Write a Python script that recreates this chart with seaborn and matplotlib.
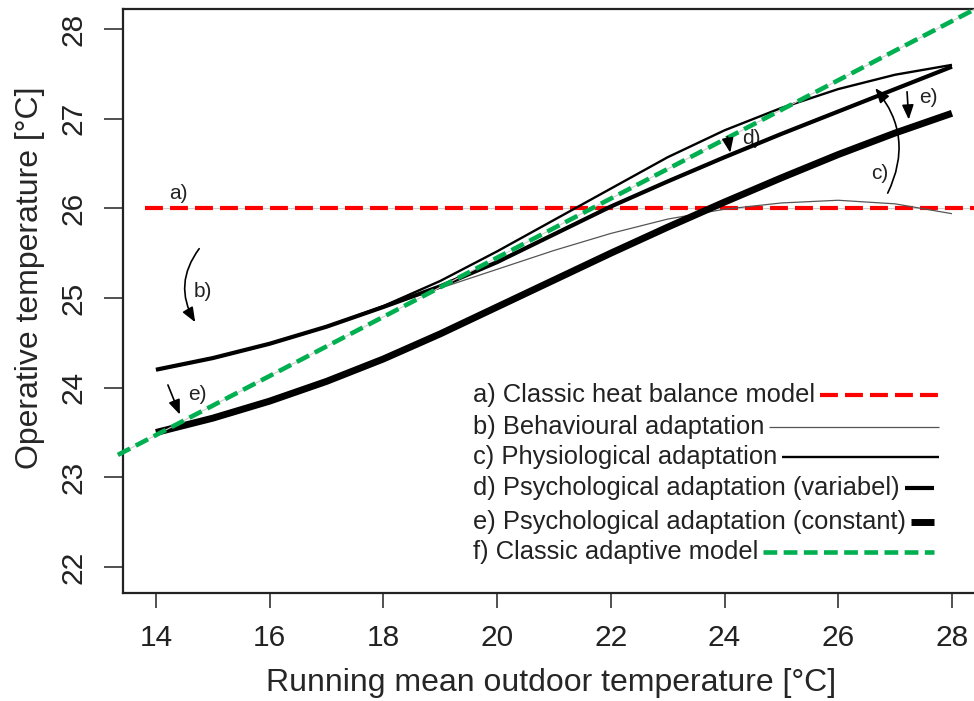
import matplotlib
matplotlib.use("Agg")
import matplotlib.pyplot as plt
import seaborn as sns
import pandas as pd
from matplotlib.patches import FancyArrowPatch

# ---------------- data ----------------
x_vals = [14, 15, 16, 17, 18, 19, 20, 21, 22, 23, 24, 25, 26, 27, 28]
psych_constant = [23.50, 23.66, 23.85, 24.07, 24.32, 24.60, 24.90, 25.20, 25.50, 25.79, 26.07, 26.34, 26.60, 26.84, 27.06]
psych_variable = [24.20, 24.33, 24.49, 24.68, 24.90, 25.13, 25.40, 25.71, 26.02, 26.30, 26.57, 26.83, 27.08, 27.33, 27.58]
physiological = [24.20, 24.33, 24.49, 24.68, 24.91, 25.19, 25.52, 25.87, 26.22, 26.57, 26.87, 27.12, 27.33, 27.49, 27.60]
behavioural = [24.20, 24.33, 24.49, 24.68, 24.90, 25.11, 25.32, 25.53, 25.72, 25.88, 25.99, 26.06, 26.09, 26.05, 25.94]
heat_balance_x = [13.81, 28.74]
heat_balance_y = [26.0, 26.0]
adaptive_x = [13.33, 28.40]
adaptive_y = [23.25, 28.22]

x_ticks = [14, 16, 18, 20, 22, 24, 26, 28]
y_ticks = [22, 23, 24, 25, 26, 27, 28]
legend_labels = ["a) Classic heat balance model",
                 "b) Behavioural adaptation",
                 "c) Physiological adaptation",
                 "d) Psychological adaptation (variabel)",
                 "e) Psychological adaptation (constant)",
                 "f) Classic adaptive model"]

# ---------------- style ----------------
sns.set_theme(style="white")
plt.rcParams["font.family"] = ["Liberation Sans", "DejaVu Sans"]
plt.rcParams["text.color"] = "#222222"

fig = plt.figure(figsize=(9.74, 7.01), dpi=100)
ax = fig.add_axes([0.12628, 0.15407, 0.8943, 0.83309])
ax.set_xlim(13.42, 28.74)
ax.set_ylim(21.71, 28.223)

RED = "#ff0000"
GREEN = "#00b050"

df = pd.DataFrame({"x": x_vals, "e": psych_constant, "d": psych_variable,
                   "c": physiological, "b": behavioural})

# a) heat balance (red dashed)
ax.plot(heat_balance_x, heat_balance_y, color="#cccccc", lw=0.8, zorder=1)
sns.lineplot(x=heat_balance_x, y=heat_balance_y, ax=ax, color=RED, lw=3.0, zorder=2)
ax.lines[-1].set_dashes([4.3, 1.7])

sns.lineplot(data=df, x="x", y="b", ax=ax, color="#555555", lw=0.9, zorder=3)
sns.lineplot(data=df, x="x", y="c", ax=ax, color="black", lw=1.7, zorder=4)
sns.lineplot(data=df, x="x", y="d", ax=ax, color="black", lw=3.0, zorder=5)
sns.lineplot(data=df, x="x", y="e", ax=ax, color="black", lw=5.0, zorder=6)

# f) adaptive (green dashed)
ax.plot(adaptive_x, adaptive_y, color="#cccccc", lw=0.8, zorder=7, clip_on=False)
sns.lineplot(x=adaptive_x, y=adaptive_y, ax=ax, color=GREEN, lw=3.3, zorder=8)
ax.lines[-1].set_dashes([3.0, 1.4])
ax.lines[-1].set_clip_on(False)

for ln in ax.lines:
    ln.set_solid_capstyle("butt")
    ln.set_solid_joinstyle("round")
    ln.set_dash_capstyle("butt")

# ---------------- annotations ----------------
def arrow(p0, p1, rad=0.0):
    a = FancyArrowPatch(p0, p1, arrowstyle="-|>,head_length=0.55,head_width=0.22",
                        mutation_scale=16, lw=1.2, color="black",
                        connectionstyle=f"arc3,rad={rad}", shrinkA=0, shrinkB=0, zorder=9)
    ax.add_patch(a)

ann_fs = 15
ax.text(14.39, 26.17, "a)", fontsize=ann_fs, ha="center", va="center", zorder=1)
ax.text(14.83, 25.07, "b)", fontsize=ann_fs, ha="center", va="center")
arrow((14.76, 25.55), (14.69, 24.73), rad=0.33)
ax.text(14.72, 23.92, "e)", fontsize=ann_fs, ha="center", va="center")
arrow((14.21, 24.03), (14.42, 23.70))
ax.text(24.48, 26.78, "d)", fontsize=ann_fs, ha="center", va="center", zorder=3.5)
arrow((24.05, 26.80), (24.10, 26.62))
ax.text(26.73, 26.39, "c)", fontsize=ann_fs, ha="center", va="center")
arrow((26.87, 26.17), (26.65, 27.34), rad=0.32)
ax.text(27.58, 27.24, "e)", fontsize=ann_fs, ha="center", va="center")
arrow((27.21, 27.30), (27.24, 26.99))

# ---------------- axes ----------------
ax.set_xticks(x_ticks)
ax.set_yticks(y_ticks)
ax.set_yticklabels([str(v) for v in y_ticks], rotation=90, va="center")
ax.tick_params(axis="x", direction="out", length=11, width=1.2, pad=11,
               labelsize=21.5, colors="#333333", labelcolor="#222222", bottom=True)
ax.tick_params(axis="y", direction="out", length=13.5, width=1.2, pad=12,
               labelsize=21.5, colors="#333333", labelcolor="#222222", left=True)
for s in ["left", "bottom", "top", "right"]:
    ax.spines[s].set_visible(True)
    ax.spines[s].set_color("#222222")
    ax.spines[s].set_linewidth(1.6)
ax.set_xlabel("Running mean outdoor temperature [°C]", fontsize=23)
ax.set_ylabel("Operative temperature [°C]", fontsize=23)
ax.xaxis.set_label_coords(0.4914, -0.128)
ax.yaxis.set_label_coords(-0.0896, 0.54)
ax.grid(False)

# ---------------- legend (text followed by line sample) ----------------
leg_x = 19.575
leg_y = [23.918, 23.561, 23.227, 22.881, 22.502, 22.168]
leg_end = [27.77, 27.77, 27.77, 27.68, 27.68, 27.68]
leg_style = [dict(color=RED, lw=3.0, dashes=[4.3, 1.7]),
             dict(color="#555555", lw=0.9),
             dict(color="black", lw=1.7),
             dict(color="black", lw=3.0),
             dict(color="black", lw=5.0),
             dict(color=GREEN, lw=3.3, dashes=[3.0, 1.4])]
texts = [ax.text(leg_x, yy, lab, fontsize=18.4, ha="left", va="center", zorder=10)
         for yy, lab in zip(leg_y, legend_labels)]
fig.canvas.draw()
r = fig.canvas.get_renderer()
inv = ax.transData.inverted()
for t, yy, xe, st in zip(texts, leg_y, leg_end, leg_style):
    bb = t.get_window_extent(r)
    x0 = inv.transform((bb.x1 + 5, bb.y0))[0]
    st = dict(st)
    d = st.pop("dashes", None)
    l, = ax.plot([x0, xe], [yy, yy], solid_capstyle="butt", zorder=10, **st)
    if d:
        l.set_dashes(d)
        l.set_dash_capstyle("butt")

fig.savefig("out.png", dpi=100)
